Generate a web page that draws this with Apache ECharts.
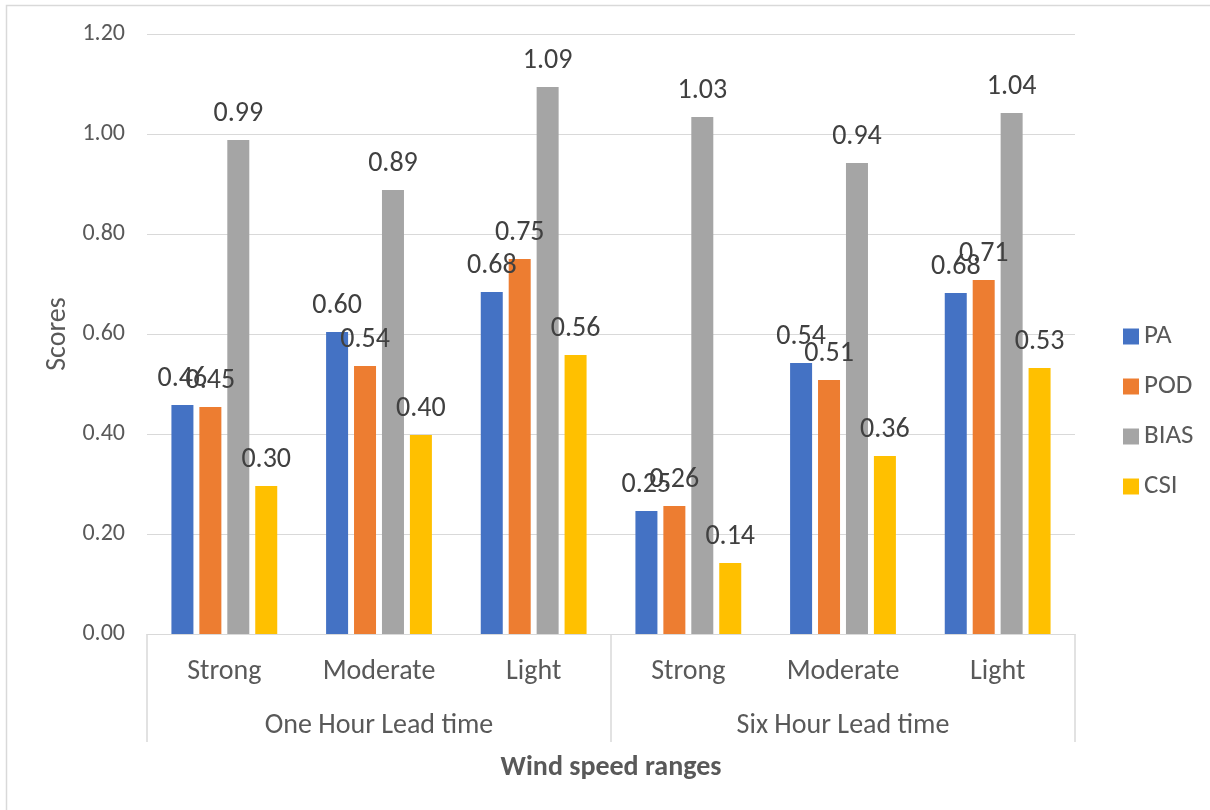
<!DOCTYPE html>
<html>
<head>
<meta charset="utf-8">
<script src="https://cdn.jsdelivr.net/npm/echarts@6/dist/echarts.min.js"></script>
<style>
  html, body { margin: 0; padding: 0; background: #fff; }
  #chart { width: 1210px; height: 810px; }
</style>
</head>
<body>
<div id="chart"></div>
<script>
// Wind speed range categories and their lead-time groups
const categories = ['Strong', 'Moderate', 'Light', 'Strong', 'Moderate', 'Light'];
const groups = ['One Hour Lead time', 'Six Hour Lead time'];

// Verification scores per category
const PA   = [0.458, 0.604, 0.684, 0.246, 0.542, 0.682];
const POD  = [0.454, 0.536, 0.750, 0.256, 0.508, 0.708];
const BIAS = [0.988, 0.888, 1.094, 1.034, 0.942, 1.042];
const CSI  = [0.296, 0.398, 0.558, 0.142, 0.356, 0.532];

const seriesNames = ['PA', 'POD', 'BIAS', 'CSI'];
const seriesValues = [PA, POD, BIAS, CSI];
const colors = ['#4472C4', '#ED7D31', '#A5A5A5', '#FFC000'];

const FONT = 'Carlito, Calibri, Lato, sans-serif';
const GRID_LINE = '#d9d9d9';

const chart = echarts.init(document.getElementById('chart'), null, { renderer: 'canvas' });

const series = seriesNames.map((name, i) => ({
  name: name,
  type: 'bar',
  xAxisIndex: 0,
  data: seriesValues[i],
  barWidth: 22,
  barGap: '27%',
  itemStyle: { color: colors[i] },
  label: {
    show: true,
    position: 'top',
    distance: 12,
    fontFamily: FONT,
    fontSize: 28,
    color: '#404040',
    formatter: p => p.value.toFixed(2)
  }
}));

chart.setOption({
  animation: false,
  backgroundColor: '#fff',
  color: colors,
  textStyle: { fontFamily: FONT },
  graphic: [{
    type: 'rect',
    shape: { x: 6.5, y: 5.5, width: 1220, height: 820 },
    style: { fill: 'none', stroke: GRID_LINE, lineWidth: 1.5 },
    silent: true,
    z: -1
  }],
  grid: { left: 147, right: 135, top: 34, bottom: 176, containLabel: false },
  legend: {
    orient: 'vertical',
    left: 1118,
    top: 318,
    itemWidth: 16,
    itemHeight: 16,
    itemGap: 23,
    icon: 'rect',
    textStyle: { fontFamily: FONT, fontSize: 27, color: '#595959', lineHeight: 22 },
    data: seriesNames
  },
  xAxis: [{
    type: 'category',
    data: categories,
    position: 'bottom',
    axisLine: { show: true, lineStyle: { color: GRID_LINE, width: 1 } },
    axisTick: { show: false },
    axisLabel: { margin: 24, fontFamily: FONT, fontSize: 28, color: '#595959', interval: 0 },
    splitLine: { show: false }
  }, {
    type: 'category',
    data: groups,
    position: 'bottom',
    gridIndex: 0,
    axisLine: { show: false },
    axisTick: { show: true, length: 108, lineStyle: { color: GRID_LINE, width: 1.5 } },
    axisLabel: { margin: 78, fontFamily: FONT, fontSize: 28, color: '#595959', interval: 0 },
    splitLine: { show: false },
    name: 'Wind speed ranges',
    nameLocation: 'middle',
    nameGap: 120,
    nameTextStyle: { fontFamily: FONT, fontSize: 28, fontWeight: 'bold', color: '#595959' }
  }],
  yAxis: {
    type: 'value',
    min: 0,
    max: 1.2,
    interval: 0.2,
    name: 'Scores',
    nameLocation: 'middle',
    nameGap: 75,
    nameRotate: 90,
    nameTextStyle: { fontFamily: FONT, fontSize: 28, color: '#595959' },
    axisLine: { show: false },
    axisTick: { show: false },
    axisLabel: { margin: 22, fontFamily: FONT, fontSize: 24, color: '#595959', formatter: v => v.toFixed(2) },
    splitLine: { lineStyle: { color: GRID_LINE, width: 1 } }
  },
  series: series
});
</script>
</body>
</html>
